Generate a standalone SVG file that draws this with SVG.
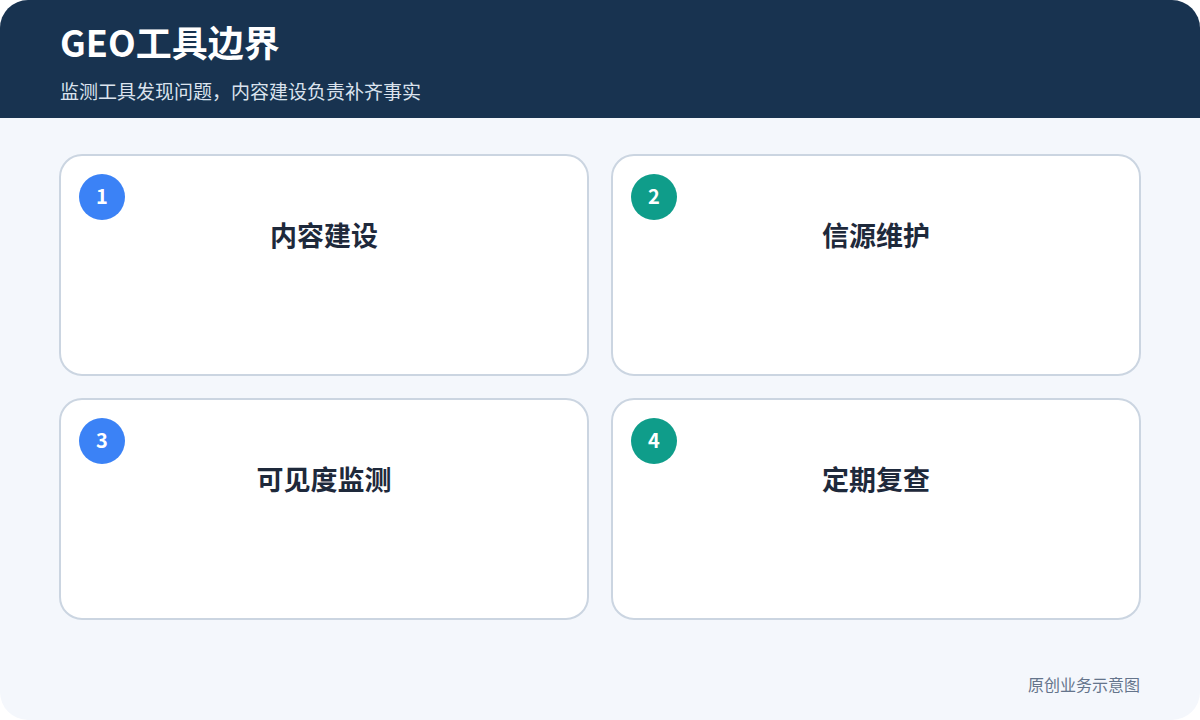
<svg xmlns="http://www.w3.org/2000/svg" width="1200" height="720" viewBox="0 0 1200 720">
<defs>
<style>
.cjk{font-family:"Noto Sans CJK SC","Noto Sans",sans-serif}
.card{fill:#ffffff;stroke:#cbd5e1;stroke-width:2}
.ctitle{font-size:27px;font-weight:700;fill:#1e293b;text-anchor:middle}
.num{font-size:20px;font-weight:700;fill:#ffffff;text-anchor:middle}
.blue{fill:#3b82f6}
.teal{fill:#0f9d8a}
</style>
<clipPath id="page"><rect x="0" y="0" width="1200" height="720" rx="28"/></clipPath>
</defs>
<rect width="1200" height="720" fill="#ffffff"/>
<g clip-path="url(#page)">
<rect width="1200" height="720" fill="#f4f7fc"/>
<rect width="1200" height="118" fill="#183350"/>
</g>
<text class="cjk" x="60" y="57" font-size="36" font-weight="700" fill="#ffffff">GEO工具边界</text>
<text class="cjk" x="60" y="99" font-size="19" fill="#dbe3ee">监测工具发现问题，内容建设负责补齐事实</text>
<g id="connectors"></g>
<g id="node1">
<rect class="card" x="60" y="155" width="528" height="220" rx="22"/>
<circle class="blue" cx="102" cy="197" r="23"/>
<text class="cjk num" x="102" y="204">1</text>
<text class="cjk ctitle" x="324" y="246">内容建设</text>
</g>
<g id="node2">
<rect class="card" x="612" y="155" width="528" height="220" rx="22"/>
<circle class="teal" cx="654" cy="197" r="23"/>
<text class="cjk num" x="654" y="204">2</text>
<text class="cjk ctitle" x="876" y="246">信源维护</text>
</g>
<g id="node3">
<rect class="card" x="60" y="399" width="528" height="220" rx="22"/>
<circle class="blue" cx="102" cy="441" r="23"/>
<text class="cjk num" x="102" y="448">3</text>
<text class="cjk ctitle" x="324" y="490">可见度监测</text>
</g>
<g id="node4">
<rect class="card" x="612" y="399" width="528" height="220" rx="22"/>
<circle class="teal" cx="654" cy="441" r="23"/>
<text class="cjk num" x="654" y="448">4</text>
<text class="cjk ctitle" x="876" y="490">定期复查</text>
</g>
<text class="cjk" x="1140" y="691" font-size="16" fill="#64748b" text-anchor="end">原创业务示意图</text>
</svg>
